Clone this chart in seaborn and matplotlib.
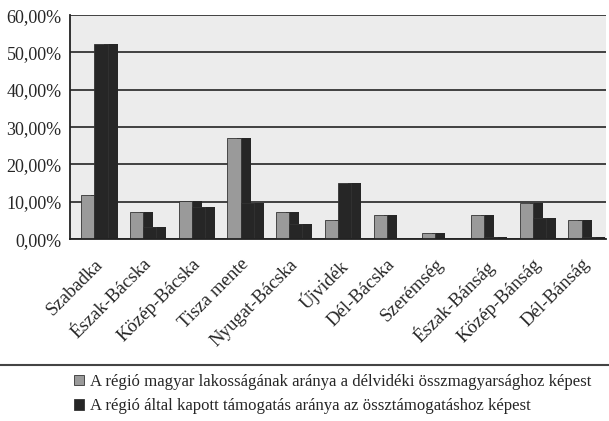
import pandas as pd
import matplotlib
matplotlib.use("Agg")
import matplotlib.pyplot as plt
import matplotlib.patheffects as pe
from matplotlib.lines import Line2D
from matplotlib.patches import Patch
from matplotlib.ticker import FuncFormatter, MultipleLocator
import seaborn as sns

# data (percent)
regions = ["Szabadka", "Észak-Bácska", "Közép-Bácska", "Tisza mente", "Nyugat-Bácska",
           "Újvidék", "Dél-Bácska", "Szerémség", "Észak-Bánság", "Közép-Bánság", "Dél-Bánság"]
population_share = [11.7, 7.4, 10.2, 27.1, 7.4, 5.1, 6.5, 1.6, 6.5, 9.6, 5.2]
support_share = [52.2, 3.2, 8.6, 9.8, 4.0, 15.1, 0.0, 0.0, 0.5, 5.6, 0.5]
series_labels = [
    "A régió magyar lakosságának aránya a délvidéki összmagyarsághoz képest",
    "A régió által kapott támogatás aránya az össztámogatáshoz képest",
]
colors = ["#9a9a9a", "#262626"]

df = pd.DataFrame({
    "region": regions * 2,
    "value": population_share + support_share,
    "series": [series_labels[0]] * len(regions) + [series_labels[1]] * len(regions),
})

sns.set_style("white")
plt.rcParams["font.family"] = ["Liberation Serif", "DejaVu Serif"]

fig = plt.figure(figsize=(6.09, 4.21), dpi=100)
ax = fig.add_axes([0.115, 0.432, 0.88, 0.532])
ax.set_facecolor("#ececec")

sns.barplot(data=df, x="region", y="value", hue="series", palette=colors,
            width=0.54, dodge=True, ax=ax, legend=False,
            edgecolor="#333333", linewidth=0.6)

# Excel-like dark shadow to the right of every bar
for p in ax.patches:
    p.set_path_effects([pe.SimplePatchShadow(offset=(7.2, 0), shadow_rgbFace="#262626", alpha=1.0),
                        pe.Normal()])

ax.set_xlim(-0.5, len(regions) - 0.5)
ax.set_ylim(0, 60)
ax.yaxis.set_major_locator(MultipleLocator(10))
ax.yaxis.set_major_formatter(FuncFormatter(lambda v, _: f"{v:.2f}%".replace(".", ",")))
ax.grid(axis="y", color="#333333", linewidth=1.3)
ax.set_axisbelow(True)

ax.set_xticks(range(len(regions)))
ax.set_xticklabels(regions, rotation=45, ha="right", rotation_mode="anchor", fontsize=13.5)
ax.set_xticks([i - 0.5 for i in range(len(regions) + 1)], minor=True)
ax.tick_params(axis="x", which="major", length=0, pad=12)
ax.tick_params(axis="x", which="minor", length=5, width=1.2, color="#222222", direction="out")
ax.tick_params(axis="y", length=4, width=1.2, color="#222222", direction="out", labelsize=13, pad=2)
ax.set_xlabel("")
ax.set_ylabel("")

for side in ["top", "right"]:
    ax.spines[side].set_visible(False)
for side in ["left", "bottom"]:
    ax.spines[side].set_color("#222222")
    ax.spines[side].set_linewidth(1.3)

# separator line and legend below the chart
fig.add_artist(Line2D([0, 1], [0.133, 0.133], transform=fig.transFigure, color="#444444", linewidth=1.5))
handles = [Patch(facecolor=c, edgecolor="#333333", linewidth=0.6) for c in colors]
fig.legend(handles, series_labels, loc="upper left", bbox_to_anchor=(0.121, 0.112),
           frameon=False, fontsize=12.1, handlelength=0.6, handleheight=0.6,
           handletextpad=0.35, labelspacing=0.5, borderaxespad=0, borderpad=0)

fig.savefig("out.png", dpi=100)
